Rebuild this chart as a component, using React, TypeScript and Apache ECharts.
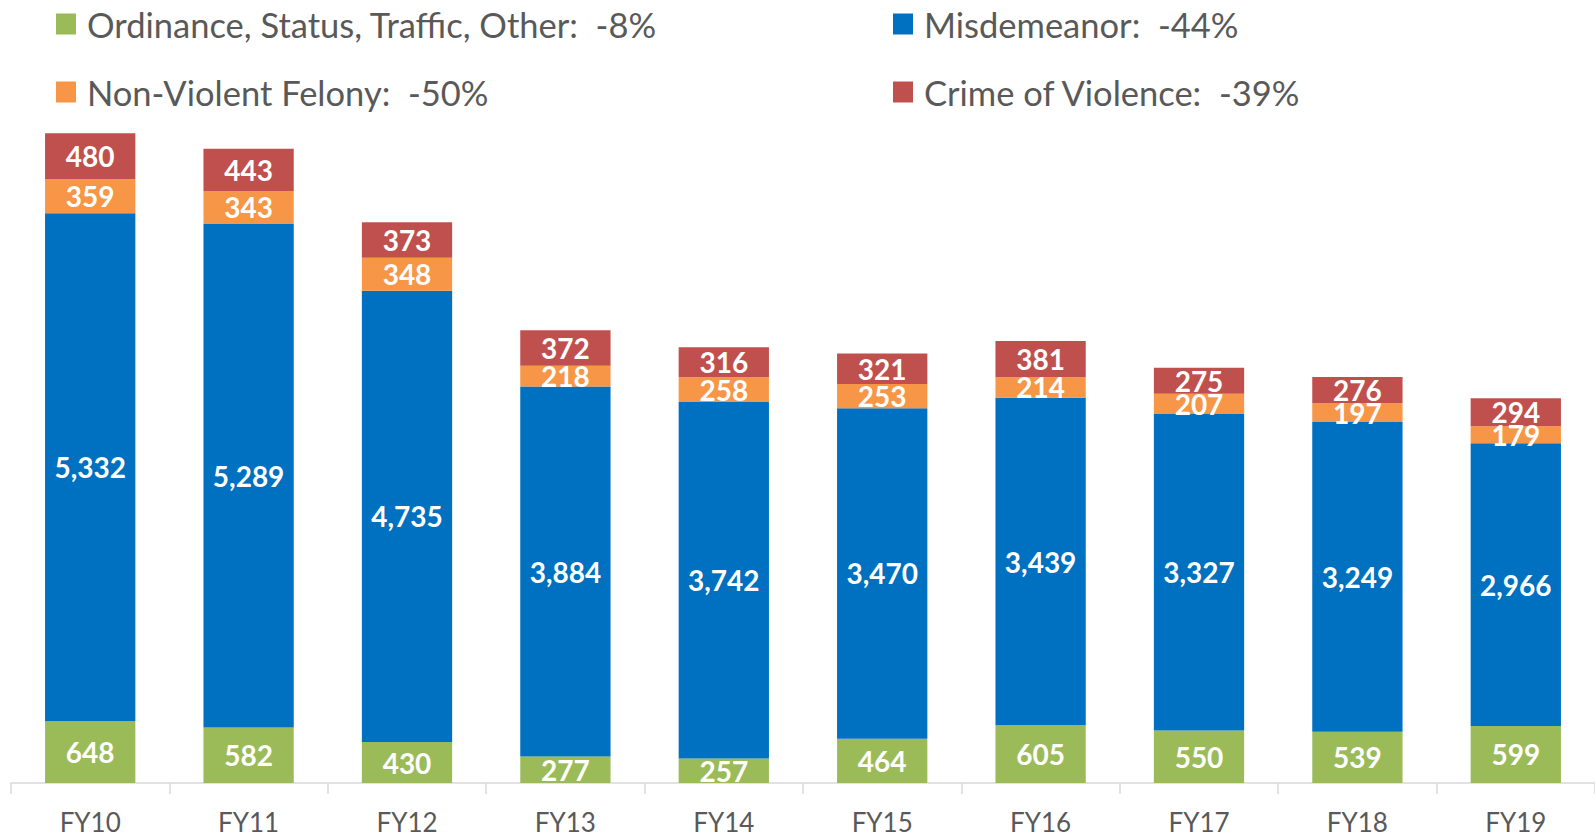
import React, { useEffect, useRef } from "react";
import * as echarts from "echarts";

const categories = ["FY10", "FY11", "FY12", "FY13", "FY14", "FY15", "FY16", "FY17", "FY18", "FY19"];
const ordinance = [648, 582, 430, 277, 257, 464, 605, 550, 539, 599];
const misdemeanor = [5332, 5289, 4735, 3884, 3742, 3470, 3439, 3327, 3249, 2966];
const nonViolent = [359, 343, 348, 218, 258, 253, 214, 207, 197, 179];
const violence = [480, 443, 373, 372, 316, 321, 381, 275, 276, 294];

const seriesNames = ["Ordinance, Status, Traffic, Other", "Misdemeanor", "Non-Violent Felony", "Crime of Violence"];
const changes = ["-8%", "-44%", "-50%", "-39%"];
const colors = ["#9BBB59", "#0070C0", "#F79646", "#C0504D"];

const FONT = "Lato, 'Noto Sans', sans-serif";

export default function App() {
  const ref = useRef<HTMLDivElement>(null);
  useEffect(() => {
    if (!ref.current) return;
    const chart = echarts.init(ref.current, undefined, { renderer: "svg" });
    const values = [ordinance, misdemeanor, nonViolent, violence];
    const mkLegend = (idx: number, left: number, top: number) => ({
      data: [seriesNames[idx]],
      left,
      top,
      padding: 0,
      itemWidth: 20,
      itemHeight: 21,
      itemGap: 0,
      icon: "rect",
      selectedMode: false,
      formatter: (name: string) => `${name}:  ${changes[seriesNames.indexOf(name)]}`,
      textStyle: { fontFamily: FONT, fontSize: 34.5, color: "#595959", padding: [0, 0, 0, 6], lineHeight: 40 },
    });
    chart.setOption({
      animation: false,
      backgroundColor: "#ffffff",
      textStyle: { fontFamily: FONT },
      legend: [mkLegend(0, 56, 4), mkLegend(2, 56, 72), mkLegend(1, 893, 4), mkLegend(3, 893, 72)],
      grid: { left: 11, top: 116, width: 1586, height: 667, containLabel: false },
      xAxis: {
        type: "category",
        data: categories,
        axisLine: { lineStyle: { color: "#D9D9D9", width: 1.5 } },
        axisTick: { show: true, length: 11, lineStyle: { color: "#D9D9D9", width: 1.5 } },
        axisLabel: { fontFamily: FONT, fontSize: 26, color: "#595959", margin: 26, lineHeight: 26 },
      },
      yAxis: { type: "value", min: 0, max: 7000, show: false, splitLine: { show: false } },
      series: values.map((v, i) => ({
        name: seriesNames[i],
        type: "bar",
        stack: "total",
        barWidth: "57%",
        data: v,
        itemStyle: { color: colors[i] },
        label: {
          show: true,
          position: "inside",
          color: "#ffffff",
          fontFamily: FONT,
          fontWeight: "bold",
          fontSize: 28,
          formatter: (p: any) => Number(p.value).toLocaleString("en-US"),
        },
      })),
    });
    return () => chart.dispose();
  }, []);
  return <div ref={ref} style={{ position: "fixed", left: 0, top: 0, width: 1595, height: 838 }} />;
}
